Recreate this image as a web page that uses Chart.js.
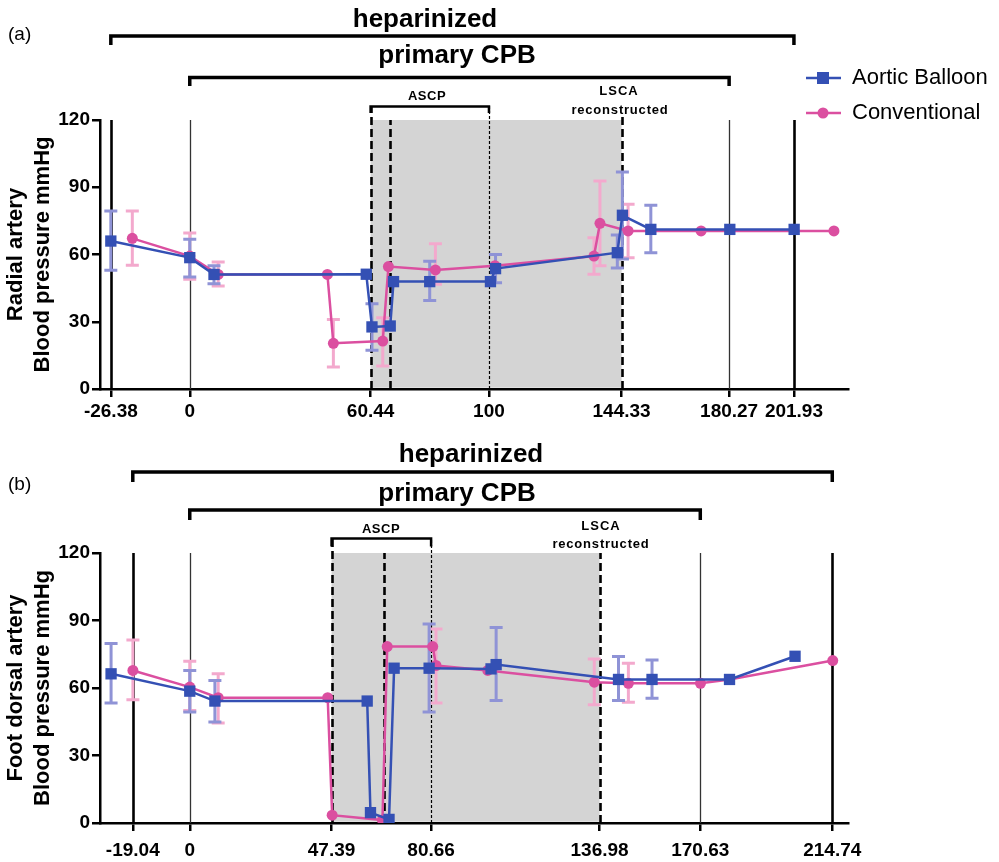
<!DOCTYPE html>
<html>
<head>
<meta charset="utf-8">
<script src="https://cdn.jsdelivr.net/npm/chart.js@4.4.1/dist/chart.umd.min.js"></script>
<style>
  html, body { margin: 0; padding: 0; background: #fff; }
  #wrap { position: relative; width: 999px; height: 862px; }
  canvas { position: absolute; left: 0; }
  #chartA { top: 0; }
  #chartB { top: 431px; }
</style>
</head>
<body>
<div id="wrap">
  <canvas id="chartA" width="999" height="431"></canvas>
  <canvas id="chartB" width="999" height="431"></canvas>
</div>
<script>
// ---- (a) Radial artery ----
const radialTicks = [-26.38, 0, 60.44, 100, 144.33, 180.27, 201.93];
const radialEvents = [-26.38, 0, 60.44, 66.9, 100, 144.33, 180.27, 201.93];

const radialBalloonTime = [-26.38, 0, 8.1, 59, 60.9, 67, 68.1, 80.2, 100.5, 102.2, 142.9, 144.6, 154.1, 180.5, 202];
const radialBalloonMean = [66, 58.6, 51.1, 51.2, 27.7, 28.1, 47.9, 47.9, 47.9, 53.7, 60.8, 77.5, 71.2, 71.2, 71.2];
const radialBalloonLow  = [53, 50, 47, null, 17.3, null, null, 39.5, null, 47.4, 54, 58, 60.8, null, null];
const radialBalloonHigh = [79.4, 66.8, 55, null, 38, null, null, 57, null, 60, 68.7, 96.8, 82, null, null];

const radialConvTime = [-19.2, 0, 9.5, 46, 48, 64.5, 66.4, 82.1, 102, 135.1, 137.1, 146.5, 170.9, 215.3];
const radialConvMean = [67.2, 59.3, 51.1, 51.1, 20.4, 21.4, 54.6, 53.1, 55, 59.3, 73.9, 70.5, 70.5, 70.5];
const radialConvLow  = [55.2, 49, 46, null, 9.8, 10.3, null, 46.7, null, 51.2, 55, 58.6, null, null];
const radialConvHigh = [79.4, 69.6, 56.6, null, 31, 31.8, null, 64.8, null, 67.5, 92.8, 82.4, null, null];

// ---- (b) Foot dorsal artery ----
const footTicks = [-19.04, 0, 47.39, 80.66, 136.98, 170.63, 214.74];
const footEvents = [-19.04, 0, 47.39, 64.8, 80.66, 136.98, 170.63, 214.74];

const footBalloonTime = [-26.3, 0, 8.4, 59.3, 60.4, 66.6, 68.3, 80, 100.7, 102.4, 143.3, 154.5, 180.4, 202.3];
const footBalloonMean = [66.3, 58.6, 54.2, 54.2, 4.6, 1.6, 68.8, 68.8, 68.5, 70.4, 63.8, 63.8, 63.8, 74.1];
const footBalloonLow  = [53.3, 49.3, 44.9, null, null, null, null, 49.3, null, 54.5, 54.5, 55.5, null, null];
const footBalloonHigh = [79.8, 67.8, 63.3, null, null, null, null, 88.4, null, 86.9, 74, 72.5, null, null];

const footConvTime = [-19, 0, 9.5, 46.1, 47.6, 64.4, 66, 81.2, 82.3, 99.6, 135.2, 146.6, 170.7, 180.4, 214.9];
const footConvMean = [67.8, 60.4, 55.7, 55.7, 3.5, 1.3, 78.4, 78.4, 70, 67.8, 62.6, 62.1, 62.1, 63.8, 72.2];
const footConvLow  = [54.8, 50, 44.4, null, null, null, null, null, 53.3, null, 52.6, 53.7, null, null, null];
const footConvHigh = [81.3, 71.9, 66.3, null, null, null, null, null, 86.2, null, 72.9, 71, null, null, null];

const BLUE = '#3450b4';
const PINK = '#db4fa0';
const BLUE_ERR = '#8f93d6';
const PINK_ERR = '#f3a9cd';
const FONT = '"Liberation Sans", Arial, Helvetica, sans-serif';

function pts(xs, ys) { return xs.map((x, i) => ({ x: x, y: ys[i] })); }

function makePanel(canvasId, p) {
  const decor = {
    id: 'decor',
    beforeDatasetsDraw(chart) {
      const ctx = chart.ctx, xs = chart.scales.x, ys = chart.scales.y;
      const y0 = ys.getPixelForValue(0), yTop = ys.getPixelForValue(120);
      ctx.save();
      // grey ASCP .. LSCA band
      const s0 = xs.getPixelForValue(p.shade[0]), s1 = xs.getPixelForValue(p.shade[1]);
      ctx.fillStyle = '#d4d4d4';
      ctx.fillRect(s0, yTop, s1 - s0, y0 - yTop - 1.3);
      // event lines
      p.events.forEach((t, i) => {
        const kind = p.eventKinds[i];
        const x = Math.round(xs.getPixelForValue(t)) + 0.5;
        ctx.beginPath();
        if (kind === 'solid') { ctx.lineWidth = 2.6; ctx.strokeStyle = '#000'; ctx.setLineDash([]); }
        else if (kind === 'thin') { ctx.lineWidth = 1.3; ctx.strokeStyle = '#333'; ctx.setLineDash([]); }
        else if (kind === 'dash') { ctx.lineWidth = 2.6; ctx.strokeStyle = '#000'; ctx.setLineDash([8, 4]); }
        else { ctx.lineWidth = 1.2; ctx.strokeStyle = '#000'; ctx.setLineDash([3, 2]); }
        const top = p.eventTops[i] != null ? p.eventTops[i] : yTop;
        ctx.moveTo(x, y0);
        ctx.lineTo(x, top);
        ctx.stroke();
      });
      ctx.setLineDash([]);
      // error bars (pink under blue)
      const bars = [[p.conv, PINK_ERR], [p.balloon, BLUE_ERR]];
      bars.forEach(([s, col]) => {
        ctx.strokeStyle = col;
        ctx.lineWidth = 3;
        s.time.forEach((t, i) => {
          if (s.low[i] == null) return;
          const x = xs.getPixelForValue(t);
          const yl = ys.getPixelForValue(s.low[i]), yh = ys.getPixelForValue(s.high[i]);
          ctx.beginPath();
          ctx.moveTo(x, yl); ctx.lineTo(x, yh);
          ctx.moveTo(x - 6.5, yl); ctx.lineTo(x + 6.5, yl);
          ctx.moveTo(x - 6.5, yh); ctx.lineTo(x + 6.5, yh);
          ctx.stroke();
        });
      });
      ctx.restore();
    },
    afterDraw(chart) {
      const ctx = chart.ctx, xs = chart.scales.x, ys = chart.scales.y;
      ctx.save();
      ctx.fillStyle = '#000';
      ctx.strokeStyle = '#000';
      // brackets
      p.brackets.forEach(b => {
        const x0 = xs.getPixelForValue(b.from), x1 = xs.getPixelForValue(b.to);
        ctx.lineWidth = b.lw;
        ctx.lineJoin = 'miter';
        ctx.beginPath();
        ctx.moveTo(x0, b.y + b.drop);
        ctx.lineTo(x0, b.y);
        ctx.lineTo(x1, b.y);
        ctx.lineTo(x1, b.y + b.drop);
        ctx.stroke();
      });
      // texts
      p.texts.forEach(t => {
        ctx.font = t.font;
        ctx.textAlign = t.align || 'center';
        ctx.textBaseline = 'alphabetic';
        ctx.letterSpacing = t.spacing || '0px';
        ctx.fillText(t.text, t.x, t.y);
      });
      ctx.letterSpacing = '0px';
      // y title, two lines
      const yc = (ys.top + ys.bottom) / 2;
      ctx.font = 'bold 22px ' + FONT;
      ctx.textAlign = 'center';
      p.yTitle.forEach((line, i) => {
        ctx.save();
        ctx.translate(22 + i * 27, yc);
        ctx.rotate(-Math.PI / 2);
        ctx.fillText(line, 0, 0);
        ctx.restore();
      });
      // legend
      if (p.legend) {
        const items = [[chart.data.datasets[0], 78], [chart.data.datasets[1], 113]];
        items.forEach(([ds, y]) => {
          ctx.strokeStyle = ds.borderColor;
          ctx.fillStyle = ds.borderColor;
          ctx.lineWidth = 2.5;
          ctx.beginPath(); ctx.moveTo(806, y); ctx.lineTo(841, y); ctx.stroke();
          if (ds.pointStyle === 'rect') ctx.fillRect(817, y - 6, 12, 12);
          else { ctx.beginPath(); ctx.arc(823, y, 5.5, 0, Math.PI * 2); ctx.fill(); }
          ctx.fillStyle = '#000';
          ctx.font = '22px ' + FONT;
          ctx.textAlign = 'left';
          ctx.textBaseline = 'middle';
          ctx.fillText(ds.label, 852, y);
        });
      }
      ctx.restore();
    }
  };

  return new Chart(document.getElementById(canvasId), {
    type: 'line',
    data: {
      datasets: [
        {
          label: 'Aortic Balloon',
          data: pts(p.balloon.time, p.balloon.mean),
          borderColor: BLUE, backgroundColor: BLUE,
          pointBackgroundColor: BLUE, pointBorderColor: BLUE,
          borderWidth: 2.5, pointStyle: 'rect', pointRadius: 8, pointBorderWidth: 0,
          tension: 0
        },
        {
          label: 'Conventional',
          data: pts(p.conv.time, p.conv.mean),
          borderColor: PINK, backgroundColor: PINK,
          pointBackgroundColor: PINK, pointBorderColor: PINK,
          borderWidth: 2.5, pointStyle: 'circle', pointRadius: 5.5, pointBorderWidth: 0,
          tension: 0
        }
      ]
    },
    options: {
      responsive: false,
      animation: false,
      devicePixelRatio: 1,
      layout: { padding: { top: p.top, right: 151, left: 0, bottom: 0 } },
      plugins: { legend: { display: false }, tooltip: { enabled: false } },
      scales: {
        x: {
          type: 'linear', min: -30, max: 220,
          afterBuildTicks: s => { s.ticks = p.ticks.map(v => ({ value: v })); },
          afterFit: s => { s.height = p.xHeight; },
          ticks: {
            autoSkip: false, maxRotation: 0, padding: p.xPad, color: '#000',
            font: { family: FONT, size: 19, weight: 'bold' },
            callback: v => String(v)
          },
          grid: { drawOnChartArea: false, drawTicks: true, tickLength: 8, lineWidth: 2.5, color: '#000' },
          border: { display: true, color: '#000', width: 2.5 }
        },
        y: {
          min: 0, max: 120,
          afterFit: s => { s.width = 100; },
          ticks: {
            stepSize: 30, padding: 2, color: '#000',
            font: { family: FONT, size: 19, weight: 'bold' }
          },
          grid: { drawOnChartArea: false, drawTicks: true, tickLength: 8, lineWidth: 2.5, color: '#000' },
          border: { display: true, color: '#000', width: 2.5 }
        }
      }
    },
    plugins: [decor]
  });
}

makePanel('chartA', {
  top: 120, xHeight: 42, xPad: 3,
  ticks: radialTicks,
  events: radialEvents,
  eventKinds: ['solid', 'thin', 'dash', 'dash', 'dot', 'dash', 'thin', 'solid'],
  eventTops: [null, null, 106, null, 106, 117, null, null],
  shade: [60.44, 144.33],
  balloon: { time: radialBalloonTime, mean: radialBalloonMean, low: radialBalloonLow, high: radialBalloonHigh },
  conv: { time: radialConvTime, mean: radialConvMean, low: radialConvLow, high: radialConvHigh },
  brackets: [
    { from: -26.38, to: 201.93, y: 36, drop: 9, lw: 3.5 },
    { from: 0, to: 180.27, y: 77.5, drop: 8.5, lw: 3.5 },
    { from: 60.44, to: 100, y: 106.5, drop: 6.5, lw: 2.5 }
  ],
  texts: [
    { text: '(a)', x: 8, y: 40, font: '19px ' + FONT, align: 'left' },
    { text: 'heparinized', x: 425, y: 27, font: 'bold 26px ' + FONT },
    { text: 'primary CPB', x: 457, y: 63, font: 'bold 26px ' + FONT },
    { text: 'ASCP', x: 427, y: 100, font: 'bold 13px ' + FONT, spacing: '0.5px' },
    { text: 'LSCA', x: 619, y: 95, font: 'bold 13px ' + FONT, spacing: '1px' },
    { text: 'reconstructed', x: 620, y: 114, font: 'bold 13px ' + FONT, spacing: '0.8px' }
  ],
  yTitle: ['Radial artery', 'Blood pressure mmHg'],
  legend: true
});

makePanel('chartB', {
  top: 122, xHeight: 39, xPad: 8,
  ticks: footTicks,
  events: footEvents,
  eventKinds: ['solid', 'thin', 'dash', 'dash', 'dot', 'dash', 'thin', 'solid'],
  eventTops: [null, null, 107, null, 107, null, null, null],
  shade: [47.39, 136.98],
  balloon: { time: footBalloonTime, mean: footBalloonMean, low: footBalloonLow, high: footBalloonHigh },
  conv: { time: footConvTime, mean: footConvMean, low: footConvLow, high: footConvHigh },
  brackets: [
    { from: -19.04, to: 214.74, y: 41, drop: 10, lw: 3.5 },
    { from: 0, to: 170.63, y: 79, drop: 10, lw: 3.5 },
    { from: 47.39, to: 80.66, y: 107.5, drop: 8, lw: 2.5 }
  ],
  texts: [
    { text: '(b)', x: 8, y: 59, font: '19px ' + FONT, align: 'left' },
    { text: 'heparinized', x: 471, y: 31, font: 'bold 26px ' + FONT },
    { text: 'primary CPB', x: 457, y: 70, font: 'bold 26px ' + FONT },
    { text: 'ASCP', x: 381, y: 102, font: 'bold 13px ' + FONT, spacing: '0.5px' },
    { text: 'LSCA', x: 601, y: 99, font: 'bold 13px ' + FONT, spacing: '1px' },
    { text: 'reconstructed', x: 601, y: 117, font: 'bold 13px ' + FONT, spacing: '0.8px' }
  ],
  yTitle: ['Foot dorsal artery', 'Blood pressure mmHg'],
  legend: false
});
</script>
</body>
</html>
